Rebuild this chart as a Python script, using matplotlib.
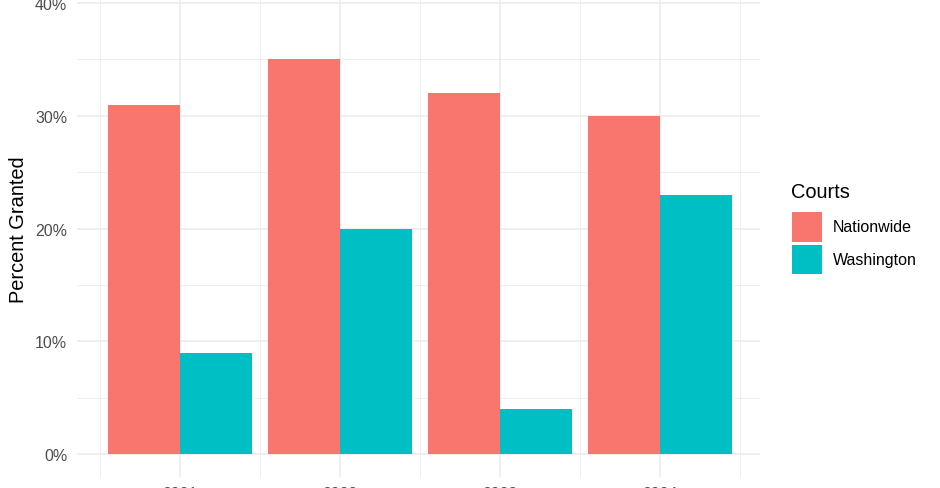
import numpy as np
import matplotlib
matplotlib.use('Agg')
import matplotlib.pyplot as plt
from matplotlib.patches import Rectangle
from matplotlib.ticker import FixedLocator, FuncFormatter

plt.rcParams['font.family'] = ['Liberation Sans', 'DejaVu Sans']

# data
years = [2021, 2022, 2023, 2024]
nationwide = [31, 35, 32, 30]
washington = [9, 20, 4, 23]
courts = ['Nationwide', 'Washington']
colors = ['#F8766D', '#00BFC4']

W, H = 940, 489
fig = plt.figure(figsize=(W / 100, H / 100), dpi=100)

# panel placed in pixel coords (the reference is cropped top and bottom)
left, right, top, bottom = 77, 760, -18.5, 477.5
ax = fig.add_axes([left / W, (H - bottom) / H, (right - left) / W, (bottom - top) / H])

x = np.arange(len(years)) + 1
w = 0.45
ax.bar(x - w / 2, nationwide, width=w, color=colors[0], label=courts[0], zorder=2)
ax.bar(x + w / 2, washington, width=w, color=colors[1], label=courts[1], zorder=2)

ax.set_xlim(0.355, 4.625)
ax.set_ylim(-2, 42)

ax.xaxis.set_major_locator(FixedLocator(x))
ax.xaxis.set_minor_locator(FixedLocator(np.arange(0.5, 5, 1.0)))
ax.set_xticklabels([str(y) for y in years])
ax.yaxis.set_major_locator(FixedLocator([0, 10, 20, 30, 40]))
ax.yaxis.set_minor_locator(FixedLocator([5, 15, 25, 35]))
ax.yaxis.set_major_formatter(FuncFormatter(lambda v, p: '%d%%' % v))

ax.grid(which='major', color='#EBEBEB', linewidth=1.1, zorder=0)
ax.grid(which='minor', color='#EBEBEB', linewidth=0.55, zorder=0)
ax.set_axisbelow(True)
for s in ax.spines.values():
    s.set_visible(False)
ax.tick_params(which='both', length=0)
ax.tick_params(axis='y', labelsize=11.5, labelcolor='#4D4D4D', pad=7)
ax.tick_params(axis='x', labelsize=11.5, labelcolor='#4D4D4D', pad=7)

ax.set_ylabel('Percent Granted', fontsize=14.4, color='black', labelpad=5)

# legend drawn by hand to match the ggplot layout
def fx(px):
    return px / W

def fy(py):
    return (H - py) / H

fig.text(fx(791), fy(193), 'Courts', fontsize=14.4, ha='left', va='center')
key_tops = [213, 245.5]
for i, name in enumerate(courts):
    y0 = key_tops[i]
    fig.patches.append(Rectangle((fx(792), fy(y0 + 29.5)), 30 / W, 29.5 / H,
                                 transform=fig.transFigure, facecolor=colors[i],
                                 edgecolor='none'))
    fig.text(fx(833), fy(y0 + 15), name, fontsize=11.5, ha='left', va='center')

fig.savefig('out.png', dpi=100)
